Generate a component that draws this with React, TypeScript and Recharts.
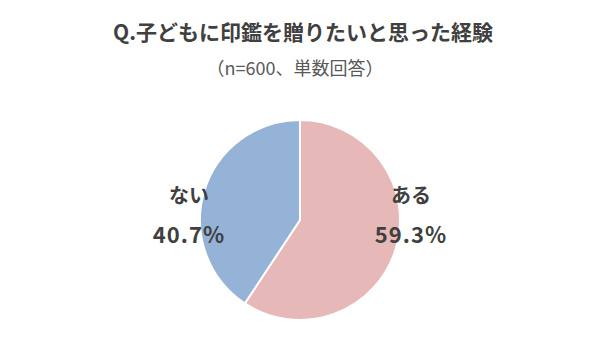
import React from "react";
import { PieChart, Pie, Cell } from "recharts";

const categories = ["ある", "ない"];
const values = [59.3, 40.7];
const colors = ["#E6B9B8", "#95B3D7"];

const data = categories.map((name, i) => ({ name, value: values[i] }));

const FONT = "'Noto Sans CJK JP', 'Noto Sans', sans-serif";
const RAD = Math.PI / 180;

const renderLabel = (props: any) => {
  const { cx, cy, midAngle, name, value } = props;
  const side = Math.cos(-midAngle * RAD) > 0 ? 1 : -1;
  const x = cx + side * 111;
  return (
    <g>
      <text x={x} y={cy - 26} textAnchor="middle" dominantBaseline="central" fill="#404040" fontSize={20} fontWeight={700} fontFamily={FONT}>
        {name}
      </text>
      <text x={x} y={cy + 13} textAnchor="middle" dominantBaseline="central" fill="#404040" fontSize={22} fontWeight={700} fontFamily={FONT} letterSpacing={1}>
        {value.toFixed(1)}%
      </text>
    </g>
  );
};

export default function App() {
  return (
    <div style={{ position: "absolute", left: 0, top: 0, width: 600, height: 357, background: "#fff" }}>
      <div style={{ position: "absolute", left: 0, top: 17, width: 606, textAlign: "center", fontFamily: FONT, fontWeight: 700, fontSize: 21, color: "#404040", lineHeight: "28px" }}>
        Q.子どもに印鑑を贈りたいと思った経験
      </div>
      <div style={{ position: "absolute", left: 0, top: 55, width: 590, textAlign: "center", fontFamily: FONT, fontSize: 18, color: "#595959", lineHeight: "24px" }}>
        （n=600、単数回答）
      </div>
      <div style={{ position: "absolute", left: 0, top: 0 }}>
        <PieChart width={600} height={357} margin={{ top: 0, right: 0, bottom: 0, left: 0 }}>
          <Pie
            data={data}
            dataKey="value"
            nameKey="name"
            cx={300}
            cy={220}
            outerRadius={100}
            startAngle={90}
            endAngle={-270}
            stroke="#ffffff"
            strokeWidth={2}
            label={renderLabel}
            labelLine={false}
            isAnimationActive={false}
          >
            {data.map((d, i) => (
              <Cell key={d.name} fill={colors[i]} />
            ))}
          </Pie>
        </PieChart>
      </div>
    </div>
  );
}
